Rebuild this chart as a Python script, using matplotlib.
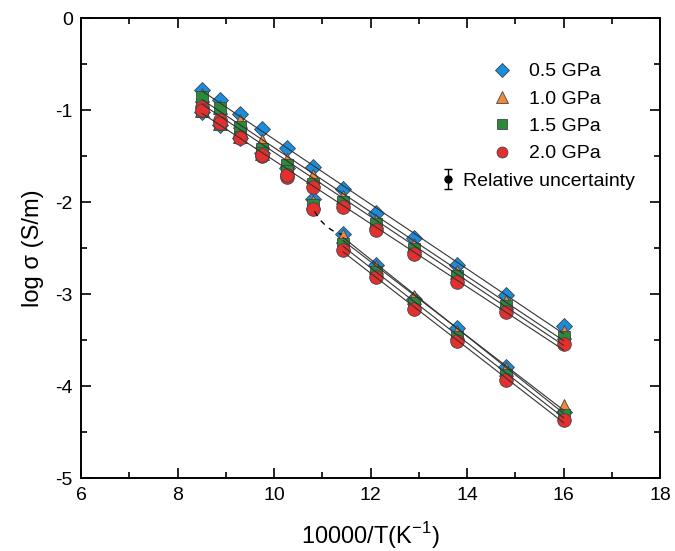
import numpy as np
import matplotlib
matplotlib.use("Agg")
import matplotlib.pyplot as plt
from matplotlib.lines import Line2D

plt.rcParams['font.family'] = ['Liberation Sans', 'DejaVu Sans']
plt.rcParams['axes.unicode_minus'] = False

# ---- data ----
pressures = ['0.5 GPa', '1.0 GPa', '1.5 GPa', '2.0 GPa']
x_all = [8.51, 8.89, 9.30, 9.76, 10.26, 10.81, 11.43, 12.12, 12.90, 13.79, 14.81, 16.00]

# cooling (upper) branch, all temperatures
upper = {
    '0.5 GPa': [-0.78, -0.89, -1.04, -1.20, -1.41, -1.62, -1.86, -2.12, -2.39, -2.68, -3.01, -3.34],
    '1.0 GPa': [-0.84, -0.96, -1.12, -1.33, -1.54, -1.72, -1.94, -2.20, -2.47, -2.76, -3.08, -3.41],
    '1.5 GPa': [-0.86, -0.98, -1.18, -1.42, -1.60, -1.80, -2.00, -2.24, -2.51, -2.80, -3.13, -3.46],
    '2.0 GPa': [-0.96, -1.11, -1.29, -1.50, -1.73, -1.83, -2.05, -2.30, -2.56, -2.87, -3.19, -3.54],
}

# heating branch, high temperature part
x_hot = [8.51, 8.89, 9.30, 9.76, 10.26, 10.81]
hot = {
    '0.5 GPa': [-1.02, -1.16, -1.30, -1.46, -1.63, -1.96],
    '1.0 GPa': [-1.00, -1.14, -1.28, -1.46, -1.62, -2.00],
    '1.5 GPa': [-1.01, -1.15, -1.29, -1.47, -1.66, -2.03],
    '2.0 GPa': [-1.00, -1.14, -1.30, -1.49, -1.70, -2.07],
}

# heating branch, low temperature part
x_low = [11.43, 12.12, 12.90, 13.79, 14.81, 16.00]
low = {
    '0.5 GPa': [-2.34, -2.68, -3.05, -3.37, -3.79, -4.28],
    '1.0 GPa': [-2.37, -2.70, -3.03, -3.41, -3.81, -4.21],
    '1.5 GPa': [-2.45, -2.76, -3.10, -3.46, -3.88, -4.31],
    '2.0 GPa': [-2.52, -2.81, -3.16, -3.51, -3.93, -4.37],
}

# dashed guide between the branches
guide_x = [10.84, 10.95, 11.10, 11.25, 11.40]
guide_y = [-2.10, -2.19, -2.27, -2.32, -2.35]

uncert = 0.09

markers = {'0.5 GPa': 'D', '1.0 GPa': '^', '1.5 GPa': 's', '2.0 GPa': 'o'}
sizes = {'0.5 GPa': 8.5, '1.0 GPa': 10, '1.5 GPa': 8.2, '2.0 GPa': 9.8}
colors = {'0.5 GPa': '#1a8ede', '1.0 GPa': '#f08a3a', '1.5 GPa': '#2b8a3a', '2.0 GPa': '#e3302f'}

fig = plt.figure(figsize=(6.75, 5.51), dpi=100)
ax = fig.add_axes([0.12, 0.132, 0.858, 0.835])

handles = []
for p in pressures:
    kw = dict(ls='none', marker=markers[p], ms=sizes[p], mfc=colors[p],
              mec='#444444', mew=0.6, zorder=3)
    ax.plot(x_all, upper[p], **kw)
    ax.plot(x_hot, hot[p], **kw)
    ax.plot(x_low, low[p], **kw)
    handles.append(Line2D([], [], ls='none', marker=markers[p], ms=sizes[p] * 0.8,
                          mfc=colors[p], mec='#444444', mew=0.6, label=p))

for p in pressures:
    c = np.polyfit(x_all, upper[p], 1)
    xs = np.array([x_all[0], x_all[-1]])
    ax.plot(xs, np.polyval(c, xs), color='#333333', lw=0.8, zorder=4)
    c2 = np.polyfit(x_low, low[p], 1)
    xs2 = np.array([x_low[0], x_low[-1]])
    ax.plot(xs2, np.polyval(c2, xs2), color='#333333', lw=0.8, zorder=4)

ax.plot(guide_x, guide_y, color='k', lw=1.0, ls=(0, (4, 4)), zorder=4)

ax.set_xlim(6, 18)
ax.set_ylim(-5, 0)
ax.set_xticks(np.arange(6, 19, 2))
ax.set_xticks(np.arange(7, 18, 2), minor=True)
ax.set_yticks(np.arange(-5, 0.1, 1))
ax.set_yticks(np.arange(-4.5, 0, 1), minor=True)
ax.tick_params(which='both', direction='in', top=True, right=True, width=1.2, labelsize=14)
ax.tick_params(which='major', length=7, pad=6)
ax.tick_params(which='minor', length=4)
for s in ax.spines.values():
    s.set_linewidth(1.4)

ax.set_xlabel('10000/T(K$^{\\mathregular{-1}}$)', fontsize=17, labelpad=12)
ax.set_ylabel('log σ (S/m)', fontsize=17, labelpad=8)

leg1 = ax.legend(handles=handles, loc='upper left', bbox_to_anchor=(0.71, 0.903),
                 frameon=False, fontsize=14, handlelength=1.0, handletextpad=0.9,
                 labelspacing=0.5, borderpad=0, borderaxespad=0)
ax.add_artist(leg1)
eb = ax.errorbar([np.nan], [np.nan], yerr=[uncert], fmt='o', color='k', ms=5,
                 capsize=3, elinewidth=1, label='Relative uncertainty')
ax.legend(handles=[eb], loc='upper left', bbox_to_anchor=(0.62, 0.665), frameon=False,
          fontsize=14, handlelength=0.8, handletextpad=0.4, borderpad=0, borderaxespad=0)

fig.savefig('out.png', dpi=100)
